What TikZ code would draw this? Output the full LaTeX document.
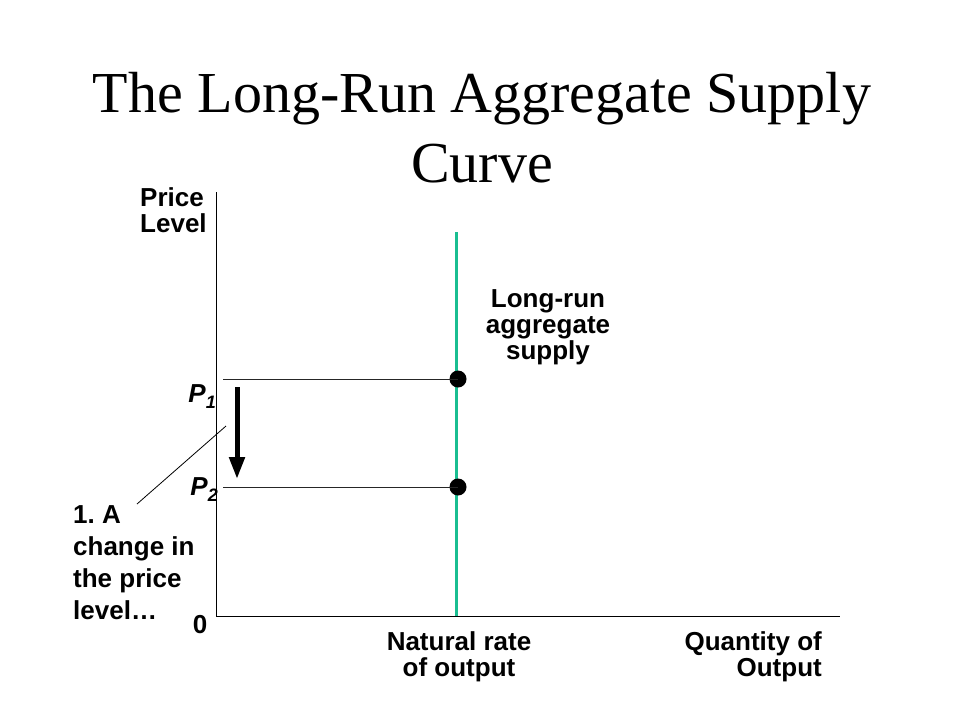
\documentclass[tikz,border=0pt]{standalone}
\usepackage{fontspec}
\setmainfont{Liberation Serif}
\newfontfamily\arialb{Liberation Sans}[BoldFont={* Bold}]
\usetikzlibrary{arrows.meta}
\definecolor{lrasteal}{RGB}{25,190,145}
\frenchspacing
\tikzset{
  lbl/.style={inner sep=0pt, font=\arialb\bfseries\fontsize{26}{26}\selectfont},
  axisline/.style={line width=1pt, black},
  guideline/.style={line width=1pt, black!85},
  eqdot/.style={circle, fill=black, inner sep=0pt, minimum size=17pt},
}
\begin{document}
\begin{tikzpicture}[x=1pt, y=-1pt]
\useasboundingbox (0,0) rectangle (960,720);
% title
\node[inner sep=0pt, anchor=north, align=center, font=\fontsize{58}{70}\selectfont] (title) at (482,72) {The Long-Run Aggregate Supply\\Curve};
% axes
\coordinate (origin) at (216,616);
\coordinate (ytop) at (216,192);
\coordinate (xend) at (840,616);
\draw[axisline] (ytop) -- (origin) -- (xend);
% LRAS
\coordinate (lrastop) at (456,232);
\coordinate (lrasbot) at (456,616);
\draw[lrasteal, line width=3pt] (lrastop) -- (lrasbot);
% dots and guides
\node[eqdot] (d1) at (458,379) {};
\node[eqdot] (d2) at (458,487) {};
\coordinate (g1) at (223,379);
\coordinate (g2) at (223,487);
\draw[guideline] (g1) -- (d1.center);
\draw[guideline] (g2) -- (d2.center);
% arrow
\coordinate (a1) at (237,387);
\coordinate (a2) at (237,479);
\draw[line width=5pt, -{Triangle[length=22pt,width=15pt]}] (a1) -- (a2);
% pointer line
\coordinate (pl1) at (137,504);
\coordinate (pl2) at (226,426);
\draw[line width=0.8pt] (pl1) -- (pl2);
% labels
\node[lbl, anchor=north west, align=left] (pl) at (140,187) {Price\\Level};
\node[lbl, anchor=north, align=center] (lras) at (548,289) {Long-run\\aggregate\\supply};
\node[lbl, anchor=north east] (p1) at (216,384) {\itshape P\raisebox{-6pt}{\fontsize{18}{18}\selectfont 1}};
\node[lbl, anchor=north east] (p2) at (218,477) {\itshape P\raisebox{-6pt}{\fontsize{18}{18}\selectfont 2}};
\node[lbl, anchor=north west, align=left, font=\arialb\bfseries\fontsize{26}{32}\selectfont] (chg) at (73,505) {1. A\\change in\\the price\\level…};
\node[lbl, anchor=north] (zero) at (200,615) {0};
\node[lbl, anchor=north, align=center] (nat) at (459,631) {Natural rate\\of output};
\node[lbl, anchor=north east, align=right] (qty) at (822,631) {Quantity of\\Output};
\end{tikzpicture}
\end{document}
